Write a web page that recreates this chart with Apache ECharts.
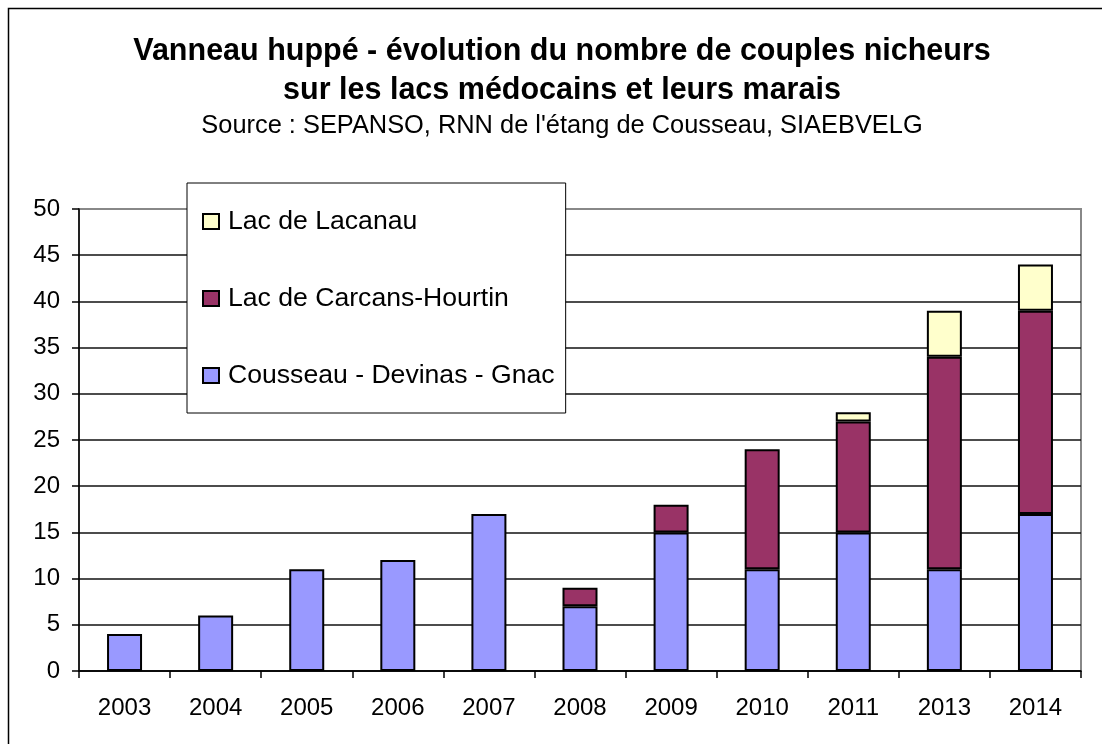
<!DOCTYPE html>
<html>
<head>
<meta charset="utf-8">
<script src="https://cdn.jsdelivr.net/npm/echarts@6/dist/echarts.min.js"></script>
<style>
html,body{margin:0;padding:0;background:#fff;}
#chart{width:1102px;height:744px;}
</style>
</head>
<body>
<div id="chart"></div>
<script>
var years = ['2003','2004','2005','2006','2007','2008','2009','2010','2011','2013','2014'];
var cousseau = [4, 6, 11, 12, 17, 7, 15, 11, 15, 11, 17];
var carcans = [null, null, null, null, null, 2, 3, 13, 12, 23, 22];
var lacanau = [null, null, null, null, null, null, null, null, 1, 5, 5];
var yTicks = [0, 50, 5]; // min, max, interval

var myChart = echarts.init(document.getElementById('chart'));

function barSeries(name, data, color){
    return {
        name: name,
        type: 'bar',
        stack: 'total',
        barWidth: 35,
        data: data,
        itemStyle: {
            color: color,
            borderColor: '#000',
            borderWidth: 2
        }
    };
}

// grid lines: black, the top one grey like the plot frame
var splitColors = [];
for (var i = 0; i < 10; i++) splitColors.push('#111');
splitColors.push('#888');

var option = {
    animation: false,
    textStyle: {fontFamily: 'Liberation Sans, Arial, sans-serif'},
    graphic: [{
        type: 'rect',
        shape: {x: 8.5, y: 8.5, width: 1110, height: 760},
        style: {fill: 'none', stroke: '#000', lineWidth: 1.5},
        silent: true
    }],
    title: {
        text: 'Vanneau huppé - évolution du nombre de couples nicheurs\nsur les lacs médocains et leurs marais',
        subtext: "Source : SEPANSO, RNN de l'étang de Cousseau, SIAEBVELG",
        left: 562,
        textAlign: 'center',
        top: 32,
        padding: 0,
        itemGap: 2,
        textStyle: {fontSize: 30.5, fontWeight: 'bold', color: '#000', lineHeight: 39},
        subtextStyle: {fontSize: 25.4, color: '#000', lineHeight: 28}
    },
    legend: {
        orient: 'vertical',
        left: 187,
        top: 183,
        data: ['Lac de Lacanau', 'Lac de Carcans-Hourtin', 'Cousseau - Devinas - Gnac'],
        itemWidth: 16,
        itemHeight: 15,
        itemGap: 48,
        padding: [24, 11, 23, 15],
        backgroundColor: '#fff',
        borderColor: '#000',
        borderWidth: 1,
        icon: 'rect',
        itemStyle: {borderColor: '#000', borderWidth: 2},
        textStyle: {fontSize: 26.6, lineHeight: 26, color: '#000', padding: [3, 0, 0, 4]},
        z: 10
    },
    grid: {
        left: 79,
        right: 21,
        top: 209,
        bottom: 73,
        show: true,
        borderColor: '#888',
        borderWidth: 2
    },
    xAxis: {
        type: 'category',
        data: years,
        axisLine: {lineStyle: {color: '#000', width: 1.5}},
        axisTick: {show: true, length: 7, lineStyle: {color: '#000', width: 1.5}},
        axisLabel: {fontSize: 24, color: '#000', margin: 25}
    },
    yAxis: {
        type: 'value',
        min: yTicks[0],
        max: yTicks[1],
        interval: yTicks[2],
        axisLine: {show: true, lineStyle: {color: '#000', width: 1.5}},
        axisTick: {show: true, length: 7, lineStyle: {color: '#000', width: 1.5}},
        axisLabel: {fontSize: 24, color: '#000', margin: 19},
        splitLine: {lineStyle: {color: splitColors, width: 1.5}}
    },
    series: [
        barSeries('Cousseau - Devinas - Gnac', cousseau, '#9999ff'),
        barSeries('Lac de Carcans-Hourtin', carcans, '#993366'),
        barSeries('Lac de Lacanau', lacanau, '#ffffcc')
    ]
};
myChart.setOption(option);
</script>
</body>
</html>
